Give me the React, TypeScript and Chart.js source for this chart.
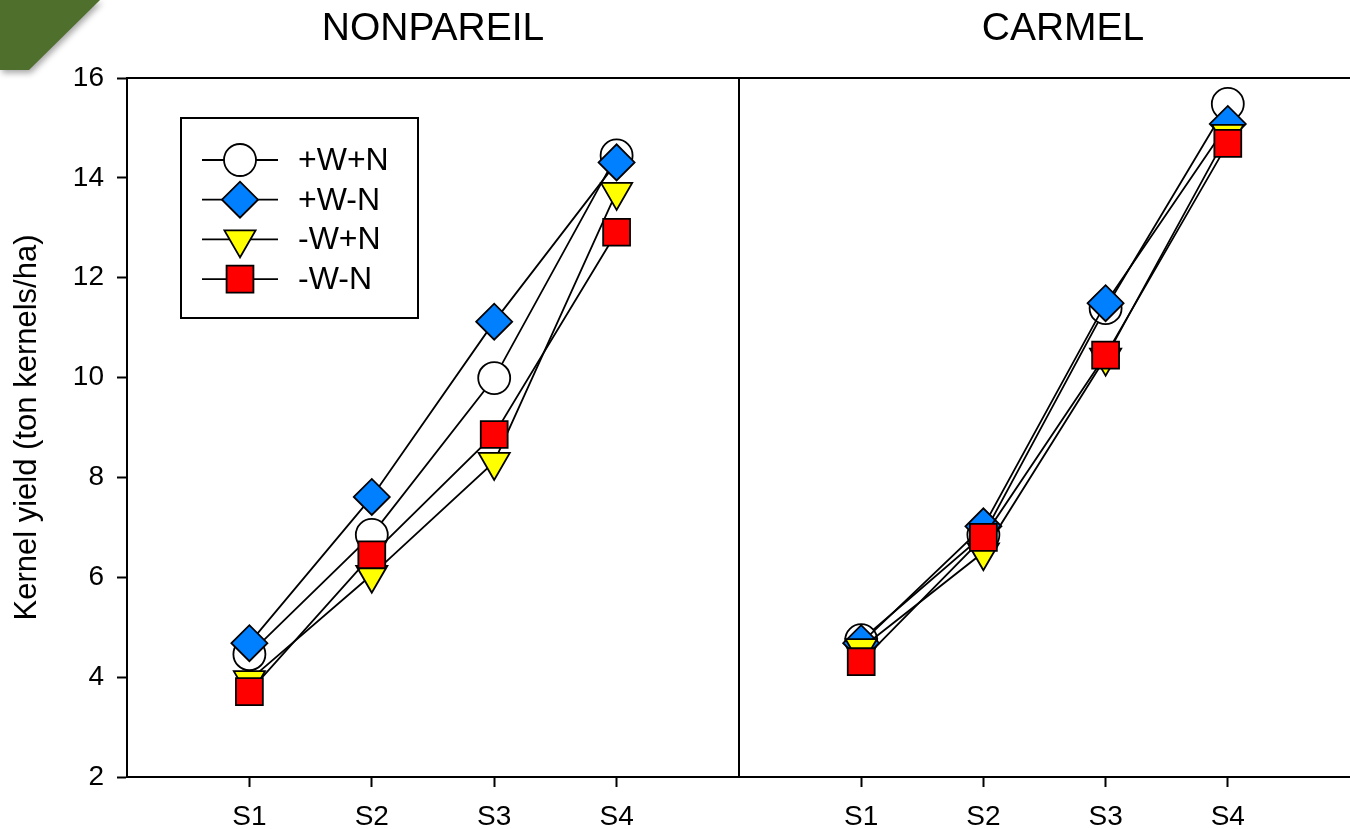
import React, { useEffect, useRef } from 'react';
import { Chart, registerables } from 'chart.js';

Chart.register(...registerables);

const FONT = '"Liberation Sans", Arial, sans-serif';

// ---- data ----
const categories = ['S1', 'S2', 'S3', 'S4'];
const seriesNames = ['+W+N', '+W-N', '-W+N', '-W-N'];

const nonpareilWpN = [4.46, 6.85, 9.99, 14.45];
const nonpareilWmN = [4.68, 7.61, 11.12, 14.31];
const nonpareilDpN = [3.94, 6.05, 8.31, 13.72];
const nonpareilDmN = [3.71, 6.45, 8.86, 12.91];

const carmelWpN = [4.74, 6.85, 11.39, 15.48];
const carmelWmN = [4.68, 7.02, 11.49, 15.08];
const carmelDpN = [4.58, 6.5, 10.4, 14.88];
const carmelDmN = [4.31, 6.8, 10.45, 14.69];

const yMin = 2;
const yMax = 16;
const yStep = 2;

const panelTitles = ['NONPAREIL', 'CARMEL'];
const yAxisTitle = 'Kernel yield (ton kernels/ha)';

// ---- styles ----
const markerStyles = [
  { pointStyle: 'circle', radius: 16, rotation: 0, fill: '#ffffff', order: 4 },
  { pointStyle: 'rectRot', radius: 18, rotation: 0, fill: '#0080ff', order: 3 },
  { pointStyle: 'triangle', radius: 18, rotation: 180, fill: '#ffff00', order: 2 },
  { pointStyle: 'rect', radius: 19, rotation: 0, fill: '#ff0000', order: 1 },
];

function drawMarker(ctx: CanvasRenderingContext2D, st: any, x: number, y: number) {
  const r = st.radius;
  ctx.beginPath();
  if (st.pointStyle === 'circle') {
    ctx.arc(x, y, r, 0, Math.PI * 2);
  } else if (st.pointStyle === 'rectRot') {
    ctx.moveTo(x - r, y);
    ctx.lineTo(x, y - r);
    ctx.lineTo(x + r, y);
    ctx.lineTo(x, y + r);
  } else if (st.pointStyle === 'triangle') {
    ctx.moveTo(x, y + r);
    ctx.lineTo(x - 0.866 * r, y - 0.5 * r);
    ctx.lineTo(x + 0.866 * r, y - 0.5 * r);
  } else {
    const s = r * Math.SQRT1_2;
    ctx.rect(x - s, y - s, 2 * s, 2 * s);
  }
  ctx.closePath();
  ctx.fillStyle = st.fill;
  ctx.fill();
  ctx.lineWidth = 1.8;
  ctx.strokeStyle = '#000';
  ctx.stroke();
}

const framePlugin = {
  id: 'frameLines',
  afterDraw(chart: any, _args: any, opts: any) {
    const { ctx, chartArea } = chart;
    ctx.save();
    ctx.strokeStyle = '#000';
    ctx.lineWidth = 2;
    ctx.beginPath();
    ctx.moveTo(chartArea.left, chartArea.top);
    ctx.lineTo(chartArea.right, chartArea.top);
    if (opts.right) {
      ctx.moveTo(chartArea.right, chartArea.top);
      ctx.lineTo(chartArea.right, chartArea.bottom);
    }
    ctx.stroke();
    ctx.restore();
  },
};

const panelTitlePlugin = {
  id: 'panelTitle',
  afterDraw(chart: any, _args: any, opts: any) {
    const { ctx } = chart;
    ctx.save();
    ctx.font = `39px ${FONT}`;
    ctx.fillStyle = '#000';
    ctx.textAlign = 'center';
    ctx.textBaseline = 'middle';
    ctx.fillText(opts.text, opts.x, 29);
    ctx.restore();
  },
};

const lineLegendPlugin = {
  id: 'lineLegend',
  afterDatasetsDraw(chart: any, _args: any, opts: any) {
    if (!opts.show) return;
    const { ctx, chartArea } = chart;
    const x0 = chartArea.left + 54;
    const y0 = chartArea.top + 40;
    ctx.save();
    ctx.fillStyle = '#fff';
    ctx.fillRect(x0, y0, 237, 200);
    ctx.strokeStyle = '#000';
    ctx.lineWidth = 2;
    ctx.strokeRect(x0, y0, 237, 200);
    chart.data.datasets.forEach((ds: any, i: number) => {
      const y = y0 + 42 + i * 39.7;
      ctx.beginPath();
      ctx.lineWidth = 1.8;
      ctx.strokeStyle = '#000';
      ctx.moveTo(x0 + 21, y);
      ctx.lineTo(x0 + 97, y);
      ctx.stroke();
      drawMarker(ctx, markerStyles[i], x0 + 59, y);
      ctx.fillStyle = '#000';
      ctx.font = `32px ${FONT}`;
      ctx.textAlign = 'left';
      ctx.textBaseline = 'middle';
      ctx.fillText(ds.label, x0 + 117, y + 1);
    });
    ctx.restore();
  },
};

function buildDatasets(series: number[][]) {
  return series.map((vals, si) => {
    const st = markerStyles[si];
    return {
      label: seriesNames[si],
      data: categories.map((_c, i) => ({ x: i, y: vals[i] })),
      borderColor: '#000',
      borderWidth: 1.8,
      backgroundColor: st.fill,
      pointStyle: st.pointStyle,
      pointRadius: st.radius,
      pointHoverRadius: st.radius,
      pointRotation: st.rotation,
      pointBackgroundColor: st.fill,
      pointBorderColor: '#000',
      pointBorderWidth: 1.8,
      order: st.order,
      tension: 0,
      fill: false,
      clip: false,
    };
  });
}

function makeConfig(series: number[][], left: boolean, title: string, titleX: number) {
  const tickFont = { family: FONT, size: 28 };
  return {
    type: 'line',
    data: { datasets: buildDatasets(series) },
    plugins: [framePlugin, panelTitlePlugin, lineLegendPlugin],
    options: {
      responsive: false,
      animation: false,
      devicePixelRatio: 1,
      layout: { autoPadding: false, padding: { top: 78, right: left ? 2 : 0, left: 0, bottom: 0 } },
      plugins: {
        legend: { display: false },
        tooltip: { enabled: false },
        frameLines: { right: left },
        panelTitle: { text: title, x: titleX },
        lineLegend: { show: left },
      },
      scales: {
        x: {
          type: 'linear',
          min: -1,
          max: categories.length,
          afterBuildTicks: (s: any) => {
            s.ticks = categories.map((_c, i) => ({ value: i }));
          },
          afterFit: (s: any) => {
            s.height = 52;
          },
          ticks: {
            callback: (v: any) => categories[Math.round(v)] ?? '',
            font: tickFont,
            color: '#000',
            padding: 13,
            autoSkip: false,
            maxRotation: 0,
          },
          grid: {
            drawOnChartArea: false,
            drawTicks: true,
            tickLength: 10,
            tickWidth: 2,
            tickColor: '#000',
          },
          border: { color: '#000', width: 2 },
        },
        y: {
          display: left,
          min: yMin,
          max: yMax,
          afterFit: (s: any) => {
            s.width = left ? 127 : 0;
          },
          ticks: {
            stepSize: yStep,
            font: tickFont,
            color: '#000',
            padding: 13,
          },
          grid: {
            drawOnChartArea: false,
            drawTicks: true,
            tickLength: 10,
            tickWidth: 2,
            tickColor: '#000',
          },
          border: { color: '#000', width: 2 },
          title: {
            display: true,
            text: yAxisTitle,
            color: '#000',
            font: { family: FONT, size: 31 },
            padding: { top: 9, bottom: 0 },
          },
        },
      },
    },
  };
}

function Panel(props: {
  series: number[][];
  left: boolean;
  title: string;
  titleX: number;
  x: number;
  width: number;
}) {
  const ref = useRef<HTMLCanvasElement | null>(null);
  useEffect(() => {
    if (!ref.current) return;
    const chart = new Chart(ref.current, makeConfig(props.series, props.left, props.title, props.titleX) as any);
    return () => chart.destroy();
  }, []);
  return (
    <canvas
      ref={ref}
      width={props.width}
      height={829}
      style={{ position: 'absolute', left: props.x, top: 0, width: props.width, height: 829, display: 'block' }}
    />
  );
}

export default function App() {
  return (
    <div
      style={{
        position: 'fixed',
        left: 0,
        top: 0,
        width: 1350,
        height: 829,
        background: '#fff',
        overflow: 'hidden',
      }}
    >
      <div style={{ position: 'absolute', left: 0, top: 0, filter: 'drop-shadow(2px 3px 3px rgba(0,0,0,0.35))' }}>
        <div
          style={{
            width: 100,
            height: 70,
            background: '#4f6f2d',
            clipPath: 'polygon(0 0, 100px 0, 29px 70px, 0 70px)',
          }}
        />
      </div>
      <Panel
        series={[nonpareilWpN, nonpareilWmN, nonpareilDpN, nonpareilDmN]}
        left={true}
        title={panelTitles[0]}
        titleX={433}
        x={0}
        width={741}
      />
      <Panel
        series={[carmelWpN, carmelWmN, carmelDpN, carmelDmN]}
        left={false}
        title={panelTitles[1]}
        titleX={324}
        x={739}
        width={611}
      />
    </div>
  );
}
